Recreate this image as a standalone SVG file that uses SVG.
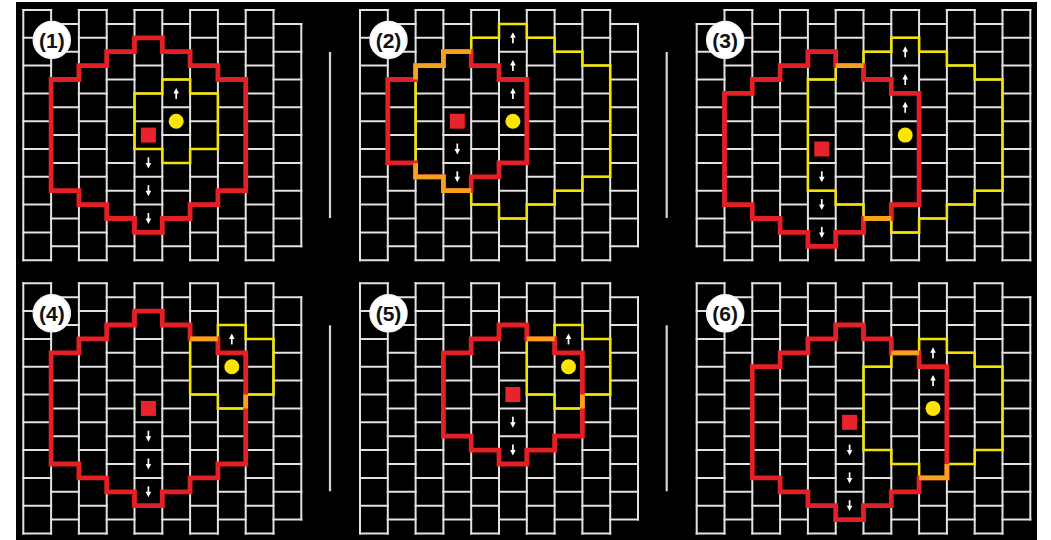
<svg xmlns="http://www.w3.org/2000/svg" xmlns:xlink="http://www.w3.org/1999/xlink" width="1051" height="540" viewBox="0 0 1051 540">
<defs>
<style>
.g{fill:none;stroke:#e2e2e2;stroke-width:2;stroke-linecap:square}
.hd{stroke-dasharray:27.8 27.8}
.red{fill:none;stroke:#e41f26;stroke-width:4.8;stroke-linejoin:miter}
.yel{fill:none;stroke:#f3e400;stroke-width:2.5;stroke-linejoin:miter}
.org{fill:none;stroke:#f7a11c;stroke-width:4.8;stroke-linejoin:miter}
.sq{fill:#e8232b}
.dot{fill:#ffe600}
.lb{fill:#fff;stroke:#f4f4f4;stroke-width:1.5}
.lt{font-family:"Liberation Sans",Arial,sans-serif;font-size:21px;font-weight:bold;fill:#111;text-anchor:middle}
.dv{stroke:#d6d6d6;stroke-width:2.2}
</style>
<g id="ad"><path d="M0,-5.5V1" stroke="#fff" stroke-width="1.7"/><path d="M-2.8,0H2.8L0,5.5Z" fill="#fff"/></g>
<g id="au"><path d="M0,5.5V-1" stroke="#fff" stroke-width="1.7"/><path d="M-2.8,0H2.8L0,-5.5Z" fill="#fff"/></g>
<g id="grid10">
<path class="g" d="M0,0V250.2M27.8,0V250.2M55.6,0V250.2M83.4,0V250.2M111.2,0V250.2M139,0V250.2M166.8,0V250.2M194.6,0V250.2M222.4,0V250.2M250.2,0V250.2M278,13.9V236.3"/>
<path class="g hd" d="M0,0H250.2M0,27.8H250.2M0,55.6H250.2M0,83.4H250.2M0,111.2H250.2M0,139H250.2M0,166.8H250.2M0,194.6H250.2M0,222.4H250.2M0,250.2H250.2"/>
<path class="g hd" d="M27.8,13.9H278M27.8,41.7H278M27.8,69.5H278M27.8,97.3H278M27.8,125.1H278M27.8,152.9H278M27.8,180.7H278M27.8,208.5H278M27.8,236.3H278"/>
</g>
<g id="grid12a">
<path class="g" d="M0,13.9V236.3M27.8,0V250.2M55.6,0V250.2M83.4,0V250.2M111.2,0V250.2M139,0V250.2M166.8,0V250.2M194.6,0V250.2M222.4,0V250.2M250.2,0V250.2M278,0V250.2M305.8,0V250.2M333.6,0V250.2"/>
<path class="g hd" d="M27.8,0H333.6M27.8,27.8H333.6M27.8,55.6H333.6M27.8,83.4H333.6M27.8,111.2H333.6M27.8,139H333.6M27.8,166.8H333.6M27.8,194.6H333.6M27.8,222.4H333.6M27.8,250.2H333.6"/>
<path class="g hd" d="M0,13.9H305.8M0,41.7H305.8M0,69.5H305.8M0,97.3H305.8M0,125.1H305.8M0,152.9H305.8M0,180.7H305.8M0,208.5H305.8M0,236.3H305.8"/>
</g>
<g id="grid12b">
<path class="g" d="M0,0V250.2M27.8,0V250.2M55.6,0V250.2M83.4,0V250.2M111.2,0V250.2M139,0V250.2M166.8,0V250.2M194.6,0V250.2M222.4,0V250.2M250.2,0V250.2M278,0V250.2M305.8,0V250.2M333.6,13.9V236.3"/>
<path class="g hd" d="M0,0H305.8M0,27.8H305.8M0,55.6H305.8M0,83.4H305.8M0,111.2H305.8M0,139H305.8M0,166.8H305.8M0,194.6H305.8M0,222.4H305.8M0,250.2H305.8"/>
<path class="g hd" d="M27.8,13.9H333.6M27.8,41.7H333.6M27.8,69.5H333.6M27.8,97.3H333.6M27.8,125.1H333.6M27.8,152.9H333.6M27.8,180.7H333.6M27.8,208.5H333.6M27.8,236.3H333.6"/>
</g>
</defs>
<rect width="1051" height="540" fill="#fff"/>
<rect x="16" y="2" width="1021" height="538" fill="#000"/>

<g id="panel1" transform="translate(23.3,10)">
<use xlink:href="#grid10" href="#grid10"/>
<path class="yel" d="M111.2,83.4H139V69.5H166.8V83.4H194.6V139H166.8V152.9H139V139H111.2Z"/>
<path class="red" d="M27.8,69.5H55.6V55.6H83.4V41.7H111.2V27.8H139V41.7H166.8V55.6H194.6V69.5H222.4V180.7H194.6V194.6H166.8V208.5H139V222.4H111.2V208.5H83.4V194.6H55.6V180.7H27.8Z"/>
<rect class="sq" x="117.6" y="117.6" width="15" height="15"/>
<circle class="dot" cx="152.9" cy="111.2" r="7.5"/>
<use href="#au" x="152.9" y="83.4"/>
<use href="#ad" x="125.1" y="152.9"/><use href="#ad" x="125.1" y="180.7"/><use href="#ad" x="125.1" y="208.5"/>
<circle class="lb" cx="28.5" cy="30" r="18.5"/>
<text class="lt" x="28.5" y="37.5">(1)</text>
<line class="dv" x1="306.7" y1="42" x2="306.7" y2="208"/>
</g>

<g id="panel2" transform="translate(360,10)">
<use href="#grid10"/>
<path class="yel" d="M55.6,55.6H83.4V41.7H111.2V27.8H139V13.9H166.8V27.8H194.6V41.7H222.4V55.6H250.2V166.8H222.4V180.7H194.6V194.6H166.8V208.5H139V194.6H111.2V180.7H83.4V166.8H55.6Z"/>
<path class="red" d="M27.8,69.5H55.6V55.6H83.4V41.7H111.2V55.6H139V69.5H166.8V152.9H139V166.8H111.2V180.7H83.4V166.8H55.6V152.9H27.8Z"/>
<path class="org" d="M55.6,69.5V55.6H83.4V41.7H111.2M55.6,152.9V166.8H83.4V180.7H111.2"/>
<rect class="sq" x="89.8" y="103.7" width="15" height="15"/>
<circle class="dot" cx="152.9" cy="111.2" r="7.5"/>
<use href="#au" x="152.9" y="27.8"/><use href="#au" x="152.9" y="55.6"/><use href="#au" x="152.9" y="83.4"/>
<use href="#ad" x="97.3" y="139"/><use href="#ad" x="97.3" y="166.8"/>
<circle class="lb" cx="28.5" cy="30" r="18.5"/>
<text class="lt" x="28.5" y="37.5">(2)</text>
<line class="dv" x1="306.7" y1="42" x2="306.7" y2="208"/>
</g>

<g id="panel3" transform="translate(696.7,10)">
<use href="#grid12a"/>
<path class="yel" d="M111.2,69.5H139V55.6H166.8V41.7H194.6V27.8H222.4V41.7H250.2V55.6H278V69.5H305.8V180.7H278V194.6H250.2V208.5H222.4V222.4H194.6V208.5H166.8V194.6H139V180.7H111.2Z"/>
<path class="red" d="M27.8,83.4H55.6V69.5H83.4V55.6H111.2V41.7H139V55.6H166.8V69.5H194.6V83.4H222.4V194.6H194.6V208.5H166.8V222.4H139V236.3H111.2V222.4H83.4V208.5H55.6V194.6H27.8Z"/>
<path class="org" d="M139,55.6H166.8M166.8,208.5H194.6"/>
<rect class="sq" x="117.6" y="131.5" width="15" height="15"/>
<circle class="dot" cx="208.5" cy="125.1" r="7.5"/>
<use href="#au" x="208.5" y="41.7"/><use href="#au" x="208.5" y="69.5"/><use href="#au" x="208.5" y="97.3"/>
<use href="#ad" x="125.1" y="166.8"/><use href="#ad" x="125.1" y="194.6"/><use href="#ad" x="125.1" y="222.4"/>
<circle class="lb" cx="28.5" cy="30" r="18.5"/>
<text class="lt" x="28.5" y="37.5">(3)</text>
</g>

<g id="panel4" transform="translate(23.3,283.3)">
<use href="#grid10"/>
<path class="yel" d="M166.8,55.6H194.6V41.7H222.4V55.6H250.2V111.2H222.4V125.1H194.6V111.2H166.8Z"/>
<path class="red" d="M27.8,69.5H55.6V55.6H83.4V41.7H111.2V27.8H139V41.7H166.8V55.6H194.6V69.5H222.4V180.7H194.6V194.6H166.8V208.5H139V222.4H111.2V208.5H83.4V194.6H55.6V180.7H27.8Z"/>
<path class="org" d="M166.8,55.6H194.6M222.4,111.2V125.1"/>
<rect class="sq" x="117.6" y="117.6" width="15" height="15"/>
<circle class="dot" cx="208.5" cy="83.4" r="7.5"/>
<use href="#au" x="208.5" y="55.6"/>
<use href="#ad" x="125.1" y="152.9"/><use href="#ad" x="125.1" y="180.7"/><use href="#ad" x="125.1" y="208.5"/>
<circle class="lb" cx="28.5" cy="30" r="18.5"/>
<text class="lt" x="28.5" y="37.5">(4)</text>
<line class="dv" x1="306.7" y1="42" x2="306.7" y2="208"/>
</g>

<g id="panel5" transform="translate(360,283.3)">
<use href="#grid10"/>
<path class="yel" d="M166.8,55.6H194.6V41.7H222.4V55.6H250.2V111.2H222.4V125.1H194.6V111.2H166.8Z"/>
<path class="red" d="M83.4,69.5H111.2V55.6H139V41.7H166.8V55.6H194.6V69.5H222.4V152.9H194.6V166.8H166.8V180.7H139V166.8H111.2V152.9H83.4Z"/>
<path class="org" d="M166.8,55.6H194.6M222.4,111.2V125.1"/>
<rect class="sq" x="145.4" y="103.7" width="15" height="15"/>
<circle class="dot" cx="208.5" cy="83.4" r="7.5"/>
<use href="#au" x="208.5" y="55.6"/>
<use href="#ad" x="152.9" y="139"/><use href="#ad" x="152.9" y="166.8"/>
<circle class="lb" cx="28.5" cy="30" r="18.5"/>
<text class="lt" x="28.5" y="37.5">(5)</text>
<line class="dv" x1="306.7" y1="42" x2="306.7" y2="208"/>
</g>

<g id="panel6" transform="translate(696.7,283.3)">
<use href="#grid12b"/>
<path class="yel" d="M166.8,83.4H194.6V69.5H222.4V55.6H250.2V69.5H278V83.4H305.8V166.8H278V180.7H250.2V194.6H222.4V180.7H194.6V166.8H166.8Z"/>
<path class="red" d="M55.6,83.4H83.4V69.5H111.2V55.6H139V41.7H166.8V55.6H194.6V69.5H222.4V83.4H250.2V194.6H222.4V208.5H194.6V222.4H166.8V236.3H139V222.4H111.2V208.5H83.4V194.6H55.6Z"/>
<path class="org" d="M194.6,69.5H222.4M222.4,194.6H250.2V180.7"/>
<rect class="sq" x="145.4" y="131.5" width="15" height="15"/>
<circle class="dot" cx="236.3" cy="125.1" r="7.5"/>
<use href="#au" x="236.3" y="69.5"/><use href="#au" x="236.3" y="97.3"/>
<use href="#ad" x="152.9" y="166.8"/><use href="#ad" x="152.9" y="194.6"/><use href="#ad" x="152.9" y="222.4"/>
<circle class="lb" cx="28.5" cy="30" r="18.5"/>
<text class="lt" x="28.5" y="37.5">(6)</text>
</g>
</svg>
